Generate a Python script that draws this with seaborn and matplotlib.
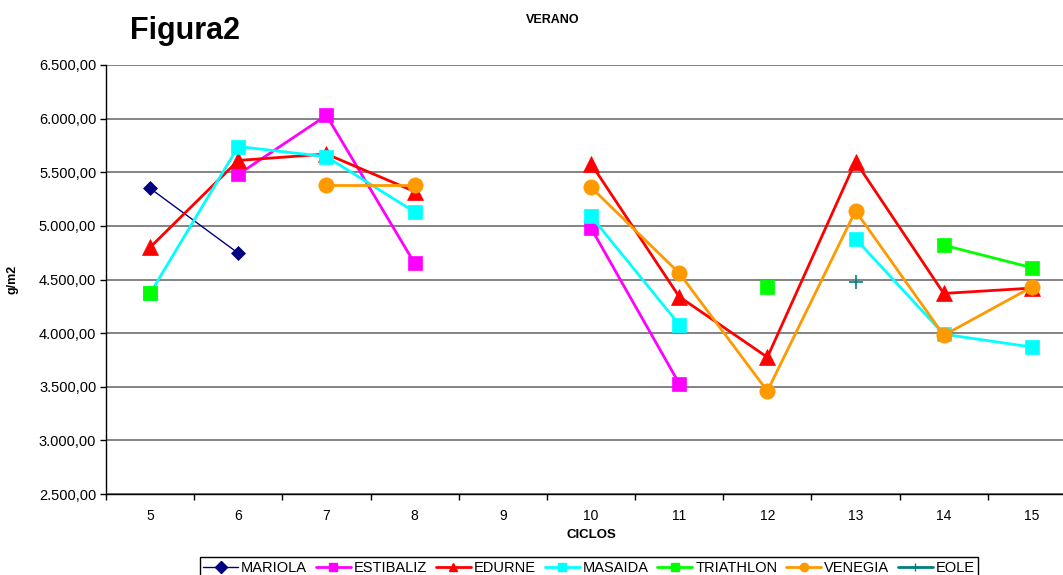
"""
Figura2 - VERANO: g/m2 por ciclo para cada variedad.
"""
import numpy as np
import pandas as pd
import matplotlib
matplotlib.use('Agg')
import matplotlib.pyplot as plt
from matplotlib.lines import Line2D
from matplotlib.ticker import FuncFormatter, MultipleLocator, FixedLocator
import seaborn as sns

nan = np.nan

CICLOS = [5, 6, 7, 8, 9, 10, 11, 12, 13, 14, 15]
MARIOLA   = [5350, 4745, nan, nan, nan, nan, nan, nan, nan, nan, nan]
ESTIBALIZ = [nan, 5480, 6030, 4650, nan, 4980, 3530, nan, nan, nan, nan]
EDURNE    = [4800, 5610, 5670, 5320, nan, 5580, 4340, 3775, 5600, 4370, 4420]
MASAIDA   = [4370, 5740, 5645, 5130, nan, 5090, 4080, nan, 4880, 3990, 3870]
TRIATHLON = [4370, nan, nan, nan, nan, nan, nan, 4430, nan, 4820, 4610]
VENEGIA   = [nan, nan, 5380, 5380, nan, 5360, 4560, 3460, 5140, 3980, 4430]
EOLE      = [nan, nan, nan, nan, nan, nan, nan, nan, 4480, nan, nan]

SERIES = ['MARIOLA', 'ESTIBALIZ', 'EDURNE', 'MASAIDA', 'TRIATHLON', 'VENEGIA', 'EOLE']
VALUES = [MARIOLA, ESTIBALIZ, EDURNE, MASAIDA, TRIATHLON, VENEGIA, EOLE]

# color, marker, markersize, linewidth
STYLE = {
    'MARIOLA':   ('#000080', 'D', 7, 1.0),
    'ESTIBALIZ': ('#FF00FF', 's', 10, 2.0),
    'EDURNE':    ('#FF0000', '^', 11, 2.0),
    'MASAIDA':   ('#00FFFF', 's', 10, 2.0),
    'TRIATHLON': ('#00FF00', 's', 10, 2.0),
    'VENEGIA':   ('#FF9900', 'o', 11, 2.0),
    'EOLE':      ('#008080', '+', 10, 2.0),
}


def to_long(name, vals):
    # tramos contiguos -> unidades separadas (Excel no une huecos)
    rows, seg, prev = [], 0, False
    for c, v in zip(CICLOS, vals):
        if np.isnan(v):
            if prev:
                seg += 1
            prev = False
            continue
        rows.append({'ciclo': c, 'valor': v, 'seg': seg, 'serie': name})
        prev = True
    return pd.DataFrame(rows)


def fmt_es(v, pos):
    return f'{v:,.2f}'.replace(',', 'X').replace('.', ',').replace('X', '.')


sns.set_style('white')
plt.rcParams['font.family'] = ['Liberation Sans', 'DejaVu Sans']
for k in ['text.color', 'axes.labelcolor', 'xtick.color', 'ytick.color']:
    plt.rcParams[k] = 'black'

fig = plt.figure(figsize=(10.63, 5.75), dpi=100)
ax = fig.add_axes([106 / 1063, 1 - 494 / 575, 970 / 1063, 429 / 575])

for i, (name, vals) in enumerate(zip(SERIES, VALUES)):
    col, mk, ms, lw = STYLE[name]
    d = to_long(name, vals)
    sns.lineplot(data=d, x='ciclo', y='valor', units='seg', estimator=None,
                 color=col, marker=mk, markersize=ms, linewidth=lw,
                 markeredgecolor=col, markeredgewidth=1.2 if mk == '+' else 0.5,
                 ax=ax, legend=False, zorder=3 + i)

ax.set_xlim(4.5, 15.5)
ax.set_ylim(2500, 6500)
ax.yaxis.set_major_locator(MultipleLocator(500))
ax.yaxis.set_major_formatter(FuncFormatter(fmt_es))
ax.xaxis.set_major_locator(FixedLocator(CICLOS))
ax.xaxis.set_minor_locator(FixedLocator([c - 0.5 for c in CICLOS]))
ax.tick_params(axis='x', which='major', length=0, pad=11, labelsize=10)
ax.tick_params(axis='x', which='minor', length=4, width=1, direction='out',
               color='black', bottom=True)
ax.tick_params(axis='y', length=4, width=1, direction='out', color='black',
               left=True, labelsize=10.5, pad=3)

ax.grid(axis='y', color='#6e6e6e', linewidth=1.2)
ax.grid(axis='x', visible=False)
for s in ['top', 'right']:
    ax.spines[s].set_visible(False)
for s in ['left', 'bottom']:
    ax.spines[s].set_color('black')
    ax.spines[s].set_linewidth(1)

ax.set_xlabel('CICLOS', fontsize=9.5, fontweight='bold')
ax.xaxis.set_label_coords(0.5, -0.082)
ax.set_ylabel('g/m2', fontsize=9, fontweight='bold')
ax.yaxis.set_label_coords(-0.09, 0.5)

fig.text(130 / 1063, 1 - 39 / 575, 'Figura2', fontsize=22, fontweight='bold',
         va='baseline', ha='left')
fig.text(553 / 1063, 1 - 23 / 575, 'VERANO', fontsize=9, fontweight='bold',
         va='baseline', ha='center')

handles = []
for name in SERIES:
    col, mk, ms, lw = STYLE[name]
    handles.append(Line2D([], [], color=col, marker=mk, markersize=6,
                          linewidth=lw if name == 'MARIOLA' else 2,
                          markeredgecolor=col, label=name))
leg = fig.legend(handles=handles, loc='upper center',
                 bbox_to_anchor=(589 / 1063, 1 - 557 / 575), ncol=7,
                 fontsize=10.5, frameon=True, fancybox=False, framealpha=1,
                 edgecolor='black', handlelength=2.4, handletextpad=0.2,
                 columnspacing=0.6, borderpad=0.25, borderaxespad=0)
leg.get_frame().set_linewidth(1)

fig.savefig('out.png', dpi=100)
